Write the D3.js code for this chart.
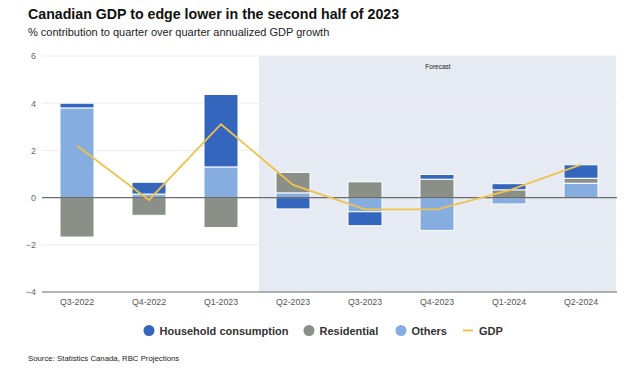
<!DOCTYPE html>
<html><head><meta charset="utf-8">
<script src="https://cdn.jsdelivr.net/npm/d3@7"></script>
<style>body{margin:0;background:#fff;}svg{display:block;font-family:"Liberation Sans",Arial,sans-serif;}</style>
</head><body><svg id="c" width="640" height="370"></svg>
<script>
const categories = ["Q3-2022","Q4-2022","Q1-2023","Q2-2023","Q3-2023","Q4-2023","Q1-2024","Q2-2024"];
const household = [0.2, 0.5, 3.07, -0.48, -0.59, 0.2, 0.26, 0.57];
const residential = [-1.67, -0.75, -1.27, 0.87, 0.67, 0.78, 0.33, 0.21];
const others = [3.8, 0.15, 1.3, 0.2, -0.6, -1.39, -0.27, 0.61];
const gdp = [2.2, -0.1, 3.11, 0.54, -0.5, -0.5, 0.31, 1.4];
const yTicks = [-4, -2, 0, 2, 4, 6];
const seriesNames = ["Others", "Residential", "Household consumption"];
const colors = {"Household consumption":"#3566bd", "Residential":"#8a8f87", "Others":"#85ade0", "GDP":"#efc24f"};
const forecastStart = "Q2-2023";

const svg = d3.select("#c");
const x = d3.scaleBand().domain(categories).range([41, 617]).padding(0);
const y = d3.scaleLinear().domain([-4, 6]).range([292, 56]);
const bw = 34;

// forecast shading
svg.append("rect").attr("x", x(forecastStart) + 2).attr("y", y(6))
  .attr("width", 616 - x(forecastStart) - 2).attr("height", y(-4) - y(6)).attr("fill", "#e6eaf3");
svg.append("text").attr("x", 438).attr("y", 69).attr("text-anchor", "middle")
  .attr("font-size", 6.5).attr("fill", "#222").text("Forecast");

// grid
svg.append("g").selectAll("line").data(yTicks.filter(d => d !== 0 && d !== -4)).join("line")
  .attr("x1", 42).attr("x2", 617).attr("y1", d => y(d)).attr("y2", d => y(d))
  .attr("stroke", "#ececec").attr("stroke-width", 1);

// y axis labels
const yAxis = d3.axisLeft(y).tickValues(yTicks).tickSize(0).tickPadding(0);
const ya = svg.append("g").attr("transform", "translate(36,0)").call(yAxis);
ya.select(".domain").remove();
ya.selectAll("text").attr("font-size", 9).attr("fill", "#666").attr("font-family", "Liberation Sans, Arial, sans-serif");

// stacked bars
const table = categories.map((c, i) => ({cat: c, "Household consumption": household[i], "Residential": residential[i], "Others": others[i]}));
const stack = d3.stack().keys(seriesNames).offset(d3.stackOffsetDiverging)(table);
svg.append("g").selectAll("g").data(stack).join("g").attr("fill", s => colors[s.key])
  .selectAll("rect").data(s => s).join("rect")
  .attr("x", d => x(d.data.cat) + x.bandwidth() / 2 - bw / 2)
  .attr("width", bw)
  .attr("y", d => y(Math.max(d[0], d[1])))
  .attr("height", d => Math.abs(y(d[0]) - y(d[1])))
  .attr("stroke", "#fff").attr("stroke-width", 1);

// zero and bottom lines
svg.append("line").attr("x1", 42).attr("x2", 617).attr("y1", y(0)).attr("y2", y(0)).attr("stroke", "#6b6b6b").attr("stroke-width", 1.2);
svg.append("line").attr("x1", 42).attr("x2", 617).attr("y1", y(-4)).attr("y2", y(-4)).attr("stroke", "#6b6b6b").attr("stroke-width", 1.2);

// GDP line
const line = d3.line().x((d, i) => x(categories[i]) + x.bandwidth() / 2).y(d => y(d));
svg.append("path").datum(gdp).attr("d", line).attr("fill", "none").attr("stroke", colors.GDP).attr("stroke-width", 1.8);

// x axis labels
const xAxis = d3.axisBottom(x).tickSize(0).tickPadding(0);
const xa = svg.append("g").attr("transform", "translate(0,299)").call(xAxis);
xa.select(".domain").remove();
xa.selectAll("text").attr("font-size", 8.8).attr("fill", "#555").attr("font-family", "Liberation Sans, Arial, sans-serif");

// titles
svg.append("text").attr("x", 28).attr("y", 19).attr("font-size", 14.2).attr("font-weight", "bold").attr("fill", "#111")
  .text("Canadian GDP to edge lower in the second half of 2023");
svg.append("text").attr("x", 28).attr("y", 36).attr("font-size", 11).attr("fill", "#222")
  .text("% contribution to quarter over quarter annualized GDP growth");

// legend
const legend = [
  {name: "Household consumption", type: "dot", x: 149},
  {name: "Residential", type: "dot", x: 309},
  {name: "Others", type: "dot", x: 401},
  {name: "GDP", type: "line", x: 468}
];
const lg = svg.append("g");
legend.forEach(l => {
  if (l.type === "dot") {
    lg.append("circle").attr("cx", l.x).attr("cy", 330.5).attr("r", 5.5).attr("fill", colors[l.name]);
    lg.append("text").attr("x", l.x + 10.5).attr("y", 334.5).attr("font-size", 11).attr("font-weight", "bold").attr("fill", "#333").text(l.name);
  } else {
    lg.append("line").attr("x1", l.x - 5).attr("x2", l.x + 5).attr("y1", 330.5).attr("y2", 330.5).attr("stroke", colors.GDP).attr("stroke-width", 2);
    lg.append("text").attr("x", l.x + 11).attr("y", 334.5).attr("font-size", 11).attr("font-weight", "bold").attr("fill", "#333").text(l.name);
  }
});

svg.append("text").attr("x", 28).attr("y", 361).attr("font-size", 7.8).attr("fill", "#222")
  .text("Source: Statistics Canada, RBC Projections");
</script></body></html>
